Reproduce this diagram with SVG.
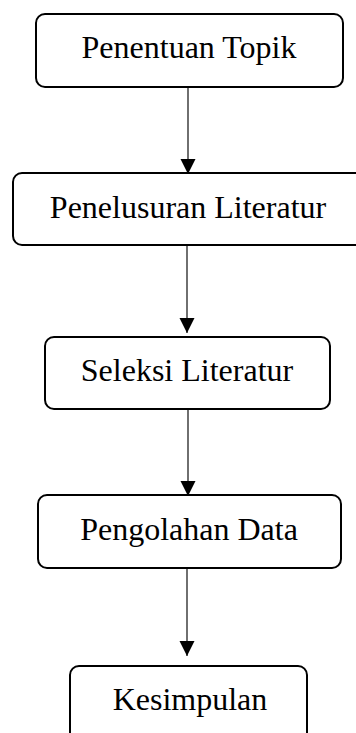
<svg xmlns="http://www.w3.org/2000/svg" width="356" height="733" viewBox="0 0 356 733">
<style>
.box{fill:#fff;stroke:#000;stroke-width:2}
.lbl{font-family:"Liberation Serif","Times New Roman",serif;font-size:32px;fill:#000;text-anchor:middle}
.conn{stroke:#222;stroke-width:1.3;fill:none}
</style>
<defs>
<marker id="ah" markerUnits="userSpaceOnUse" markerWidth="16" markerHeight="16" viewBox="0 0 16 16" refX="15" refY="8" orient="auto">
<path d="M0,0.5 L15,8 L0,15.5 Z" fill="#000"/>
</marker>
</defs>
<rect width="356" height="733" fill="#fff"/>
<g id="connectors">
<line class="conn" x1="188" y1="87" x2="188" y2="174" marker-end="url(#ah)"/>
<line class="conn" x1="187" y1="245" x2="187" y2="333" marker-end="url(#ah)"/>
<line class="conn" x1="188" y1="409" x2="188" y2="496" marker-end="url(#ah)"/>
<line class="conn" x1="187" y1="568" x2="187" y2="656" marker-end="url(#ah)"/>
</g>
<g id="n1">
<rect class="box" x="36" y="14" width="307" height="73" rx="9"/>
<text class="lbl" x="189" y="58">Penentuan Topik</text>
</g>
<g id="n2">
<rect class="box" x="13" y="173" width="360" height="72" rx="9"/>
<text class="lbl" x="188" y="218">Penelusuran Literatur</text>
</g>
<g id="n3">
<rect class="box" x="45" y="337" width="285" height="72" rx="9"/>
<text class="lbl" x="187" y="381">Seleksi Literatur</text>
</g>
<g id="n4">
<rect class="box" x="38" y="495" width="303" height="73" rx="9"/>
<text class="lbl" x="189" y="540">Pengolahan Data</text>
</g>
<g id="n5">
<rect class="box" x="70" y="666" width="237" height="80" rx="9"/>
<text class="lbl" x="190" y="710">Kesimpulan</text>
</g>
</svg>
